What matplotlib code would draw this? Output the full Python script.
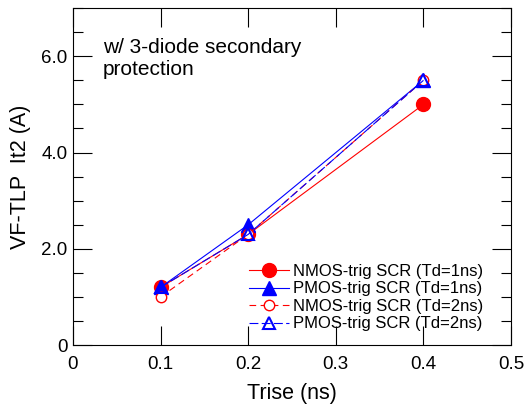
import numpy as np
import matplotlib.pyplot as plt
from matplotlib.ticker import MultipleLocator

plt.rcParams['font.family'] = ['Liberation Sans', 'DejaVu Sans']

trise = [0.1, 0.2, 0.4]
nmos_1ns = [1.2, 2.3, 5.0]
pmos_1ns = [1.2, 2.5, 5.5]
nmos_2ns = [1.0, 2.3, 5.5]
pmos_2ns = [1.2, 2.3, 5.5]

xticks = [0, 0.1, 0.2, 0.3, 0.4, 0.5]
xticklabels = ['0', '0.1', '0.2', '0.3', '0.4', '0.5']
yticks = [0, 2, 4, 6]
yticklabels = ['0', '2.0', '4.0', '6.0']

fig = plt.figure(figsize=(5.28, 4.07), dpi=100)
ax = fig.add_axes([0.138, 0.152, 0.83, 0.828])

ax.plot(trise, nmos_1ns, '-o', color='red', lw=0.8, ms=10,
        label='NMOS-trig SCR (Td=1ns)')
ax.plot(trise, pmos_1ns, '-^', color='blue', lw=0.8, ms=10,
        label='PMOS-trig SCR (Td=1ns)')
ax.plot(trise, nmos_2ns, '--o', color='red', lw=0.8, ms=7.5,
        mfc='white', mew=1.0, dashes=(6, 4), label='NMOS-trig SCR (Td=2ns)')
ax.plot(trise, pmos_2ns, '--^', color='blue', lw=0.8, ms=8,
        mfc='none', mew=1.5, dashes=(8, 3), label='PMOS-trig SCR (Td=2ns)')

ax.set_xlim(0, 0.5)
ax.set_ylim(0, 7)
ax.set_xticks(xticks)
ax.set_xticklabels(xticklabels)
ax.set_yticks(yticks)
ax.set_yticklabels(yticklabels)
ax.yaxis.set_minor_locator(MultipleLocator(0.5))

ax.tick_params(which='both', direction='in', top=True, right=True,
               labelsize=13.5, width=0.8)
ax.tick_params(which='major', length=14)
ax.tick_params(which='minor', length=7)
ax.tick_params(axis='y', pad=4)
ax.tick_params(axis='x', pad=8)
for s in ax.spines.values():
    s.set_linewidth(0.8)

ax.set_xlabel('Trise (ns)', fontsize=15.5, labelpad=7)
ax.set_ylabel('VF-TLP  It2 (A)', fontsize=15.5, labelpad=7)

ax.text(0.068, 0.91, 'w/ 3-diode secondary\nprotection', transform=ax.transAxes,
        fontsize=15, va='top', ha='left', linespacing=1.2)

ax.legend(loc='lower right', frameon=False, fontsize=12, handlelength=2.4,
          handletextpad=0.2, labelspacing=0.15, borderaxespad=0.3,
          bbox_to_anchor=(0.962, 0.006))

fig.savefig('out.png', dpi=100)
